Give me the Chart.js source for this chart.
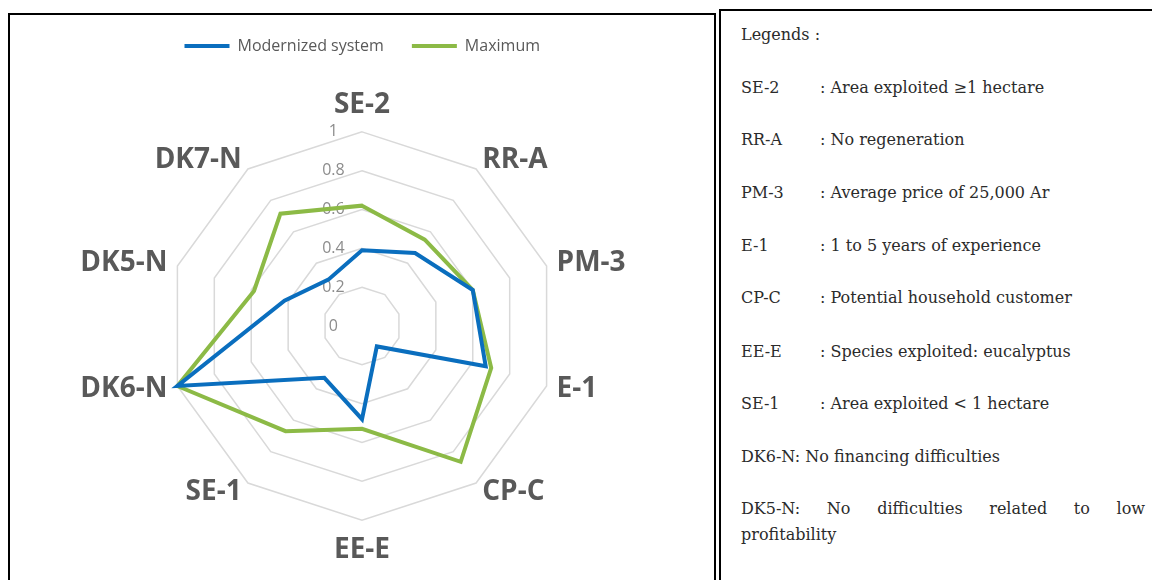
<!DOCTYPE html>
<html><head><meta charset="utf-8">
<script src="https://cdn.jsdelivr.net/npm/chart.js@4.4.1/dist/chart.umd.min.js"></script>
<style>
html,body{margin:0;padding:0;width:1152px;height:580px;overflow:hidden;background:#fff;}
#chartWrap{position:absolute;left:-38px;top:1px;width:800px;height:600px;z-index:1;}
#leftBox{position:absolute;left:8px;top:13px;width:708px;height:640px;border:2px solid #000;box-sizing:border-box;z-index:3;pointer-events:none;}
#rightBox{position:absolute;left:719px;top:9px;width:460px;height:640px;border:2px solid #000;box-sizing:border-box;background:#fff;z-index:2;}
.ln{position:absolute;height:24px;line-height:24px;white-space:nowrap;font-family:"DejaVu Serif";font-size:16px;color:#2b2b2b;z-index:4;}
.code{left:741px;}
.desc{left:820px;}
</style>
</head><body>
<div id="chartWrap"><canvas id="c" width="800" height="600"></canvas></div>
<div id="leftBox"></div>
<div id="rightBox"></div>

<div class="ln code" style="top:23px">Legends :</div>
<div class="ln code" style="top:76px">SE-2</div><div class="ln desc" style="top:76px">: Area exploited ≥1 hectare</div>
<div class="ln code" style="top:128px">RR-A</div><div class="ln desc" style="top:128px">: No regeneration</div>
<div class="ln code" style="top:181px">PM-3</div><div class="ln desc" style="top:181px">: Average price of 25,000 Ar</div>
<div class="ln code" style="top:234px">E-1</div><div class="ln desc" style="top:234px">: 1 to 5 years of experience</div>
<div class="ln code" style="top:286px">CP-C</div><div class="ln desc" style="top:286px">: Potential household customer</div>
<div class="ln code" style="top:340px">EE-E</div><div class="ln desc" style="top:340px">: Species exploited: eucalyptus</div>
<div class="ln code" style="top:392px">SE-1</div><div class="ln desc" style="top:392px">: Area exploited &lt; 1 hectare</div>
<div class="ln code" style="top:445px">DK6-N: No financing difficulties</div>
<div class="ln code" style="top:497px;width:404px;text-align:justify;text-align-last:justify;white-space:normal;">DK5-N: No difficulties related to low</div>
<div class="ln code" style="top:523px">profitability</div>

<script>
// ---- data ----
const categories = ['SE-2', 'RR-A', 'PM-3', 'E-1', 'CP-C', 'EE-E', 'SE-1', 'DK6-N', 'DK5-N', 'DK7-N'];
const modernizedSystem = [0.39, 0.465, 0.6, 0.67, 0.13, 0.48, 0.33, 1.0, 0.42, 0.295];
const maximumValues = [0.62, 0.55, 0.6, 0.70, 0.865, 0.53, 0.67, 1.0, 0.585, 0.715];
const tickValues = [0, 0.2, 0.4, 0.6, 0.8, 1];
const seriesNames = ['Modernized system', 'Maximum'];

function build() {
  const ctx = document.getElementById('c').getContext('2d');
  new Chart(ctx, {
    type: 'radar',
    data: {
      labels: categories,
      datasets: [
        {label: seriesNames[0], data: modernizedSystem, borderColor: '#0A6EBE', backgroundColor: '#0A6EBE',
         borderWidth: 4, pointRadius: 0, pointHoverRadius: 0, fill: false, tension: 0},
        {label: seriesNames[1], data: maximumValues, borderColor: '#8CBA46', backgroundColor: '#8CBA46',
         borderWidth: 4, pointRadius: 0, pointHoverRadius: 0, fill: false, tension: 0}
      ]
    },
    options: {
      responsive: false,
      devicePixelRatio: 1,
      animation: false,
      layout: {padding: {top: 9, bottom: 11.8, left: 0.5, right: 0}},
      plugins: {
        tooltip: {enabled: false},
        legend: {
          position: 'top',
          labels: {
            usePointStyle: true, pointStyle: 'line', pointStyleWidth: 45, padding: 28,
            color: '#595959', font: {family: 'Open Sans', size: 16}
          }
        }
      },
      scales: {
        r: {
          min: 0, max: 1,
          afterBuildTicks: (scale) => {
            scale.ticks = [{value: tickValues[0]}].concat(tickValues.map(v => ({value: v})));
          },
          angleLines: {display: false},
          grid: {
            color: (c) => (c.tick && c.tick.value === 0) ? 'rgba(0,0,0,0)' : '#d9d9d9',
            lineWidth: 1.5
          },
          ticks: {
            color: '#8c8c8c',
            font: {family: 'Open Sans', size: 16},
            showLabelBackdrop: false,
            callback: (v, i) => {
              if (i === 0) return '';
              const s = String(v);
              return s + '\u2003\u2003\u2003\u2007';
            }
          },
          pointLabels: {
            color: '#595959',
            padding: (c) => c.index === 0 ? -25.1 : (c.index === 5 ? -17.1 : 0.5),
            font: (c) => ({
              family: 'Open Sans', size: 28, weight: 'bold',
              lineHeight: c.index === 0 ? '83px' : (c.index === 5 ? '75px' : 0.01)
            })
          }
        }
      }
    }
  });
}

Promise.all([
  document.fonts.load('bold 28px "Open Sans"'),
  document.fonts.load('16px "Open Sans"'),
  document.fonts.load('16px "DejaVu Serif"')
]).then(build, build);
</script>
</body></html>
